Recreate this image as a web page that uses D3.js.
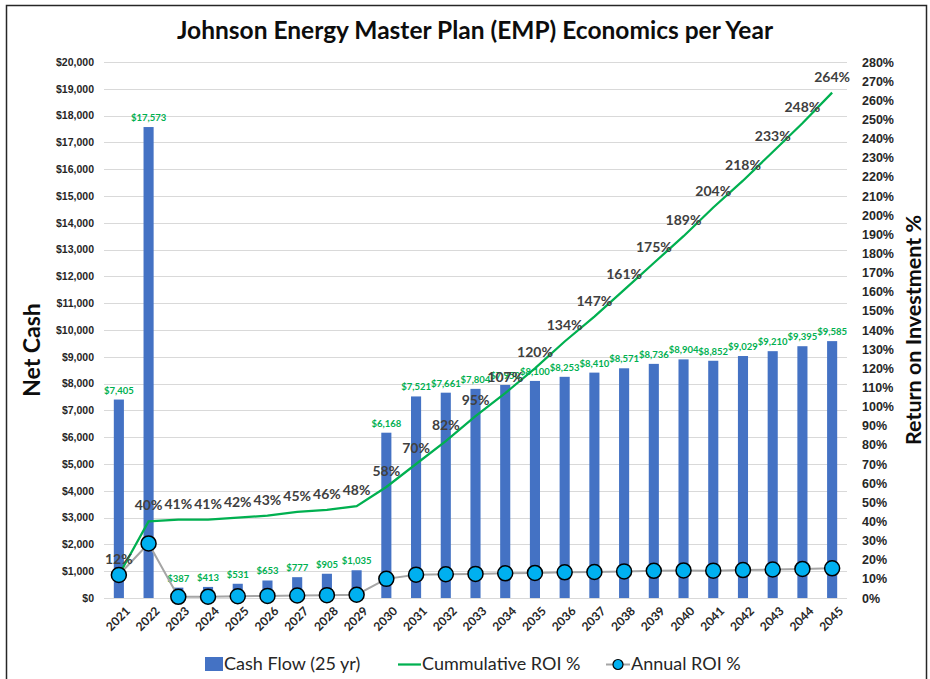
<html>
  <head>
    <script src="https://d3js.org/d3.v7.min.js"></script>
    <style>
      body { margin: 0; background: white; font-family: Lato, "Open Sans", sans-serif; }
      .grid line { stroke: #d9d9d9; stroke-width: 1; }
      .ylab text { font-size: 10.5px; font-weight: bold; fill: #262626; }
      .rlab text { font-size: 12.5px; font-weight: bold; fill: #262626; }
      .xlab text { font-size: 12px; font-weight: bold; fill: #262626; }
      .cash-label { font-size: 9.5px; font-weight: bold; fill: #00B050; }
      .cum-label { font-size: 14px; font-weight: bold; fill: #404040; }
      .legend text { font-size: 18px; fill: #262626; }
    </style>
  </head>
  <body>
    <svg id="chart" width="930" height="679"></svg>
    <script>
      var years = ['2021','2022','2023','2024','2025','2026','2027','2028','2029','2030','2031','2032','2033',
                   '2034','2035','2036','2037','2038','2039','2040','2041','2042','2043','2044','2045'];
      var cashFlow = [7405, 17573, 387, 413, 531, 653, 777, 905, 1035, 6168, 7521, 7661, 7804,
                      7950, 8100, 8253, 8410, 8571, 8736, 8904, 8852, 9029, 9210, 9395, 9585];
      var cumulativeRoi = [12, 40, 41, 41, 42, 43, 45, 46, 48, 58, 70, 82, 95,
                           107, 120, 134, 147, 161, 175, 189, 204, 218, 233, 248, 264];
      var annualRoi = [12, 28.5, 0.6, 0.7, 0.9, 1.1, 1.3, 1.5, 1.7, 10, 12.2, 12.4, 12.6,
                       12.9, 13.1, 13.4, 13.6, 13.9, 14.2, 14.4, 14.3, 14.6, 14.9, 15.2, 15.5];
      var cashTicks = d3.range(0, 20001, 1000);
      var roiTicks = d3.range(0, 281, 10);

      var svg = d3.select('#chart');

      // frame
      svg.append('rect').attr('x', 6.5).attr('y', 5.5).attr('width', 920).attr('height', 700)
        .attr('fill', 'white').attr('stroke', '#262626').attr('stroke-width', 1.5);

      svg.append('text').attr('x', 475).attr('y', 39).attr('text-anchor', 'middle')
        .style('font-size', '24.5px').style('font-weight', 'bold').style('fill', '#0d0d0d')
        .text('Johnson Energy Master Plan (EMP) Economics per Year');

      var x = d3.scaleBand().domain(years).range([104, 847]);
      var yCash = d3.scaleLinear().domain([0, 20000]).range([598, 62]);
      var yRoi = d3.scaleLinear().domain([0, 280]).range([598, 62]);
      var cx = function(d, i) { return x(years[i]) + x.bandwidth() / 2; };

      // gridlines
      svg.append('g').attr('class', 'grid')
        .selectAll('line').data(cashTicks).enter().append('line')
        .attr('x1', 104).attr('x2', 847)
        .attr('y1', function(d) { return Math.round(yCash(d)) + 0.5; })
        .attr('y2', function(d) { return Math.round(yCash(d)) + 0.5; });

      // left axis
      var left = svg.append('g').attr('class', 'ylab').attr('transform', 'translate(100,0)')
        .call(d3.axisLeft(yCash).tickValues(cashTicks).tickSize(0).tickPadding(6)
          .tickFormat(function(d) { return '$' + d3.format(',')(d); }));
      left.select('.domain').remove();

      // right axis
      var right = svg.append('g').attr('class', 'rlab').attr('transform', 'translate(856,0)')
        .call(d3.axisRight(yRoi).tickValues(roiTicks).tickSize(0).tickPadding(6)
          .tickFormat(function(d) { return d + '%'; }));
      right.select('.domain').remove();

      // x labels
      svg.append('g').attr('class', 'xlab').selectAll('text').data(years).enter().append('text')
        .attr('text-anchor', 'end')
        .attr('transform', function(d) { return 'translate(' + (x(d) + x.bandwidth() / 2 + 6) + ',606) rotate(-45)'; })
        .attr('dy', '0.7em')
        .text(function(d) { return d; });

      // axis titles
      svg.append('text').attr('transform', 'translate(40,350) rotate(-90)').attr('text-anchor', 'middle')
        .style('font-size', '23px').style('font-weight', 'bold').style('fill', '#0d0d0d').text('Net Cash');
      svg.append('text').attr('transform', 'translate(921,330) rotate(-90)').attr('text-anchor', 'middle')
        .style('font-size', '21.5px').style('font-weight', 'bold').style('fill', '#0d0d0d').text('Return on Investment %');

      // bars
      var bw = x.bandwidth() * 0.34;
      svg.append('g').selectAll('rect').data(cashFlow).enter().append('rect')
        .attr('x', function(d, i) { return cx(d, i) - bw / 2; })
        .attr('y', function(d) { return yCash(d); })
        .attr('width', bw)
        .attr('height', function(d) { return yCash(0) - yCash(d); })
        .attr('fill', '#4472C4');

      svg.append('g').selectAll('text').data(cashFlow).enter().append('text')
        .attr('class', 'cash-label').attr('text-anchor', 'middle')
        .attr('x', cx).attr('y', function(d) { return yCash(d) - 6; })
        .text(function(d) { return '$' + d3.format(',')(d); });

      // annual ROI
      var line = d3.line().x(cx).y(function(d) { return yRoi(d); });
      svg.append('path').datum(annualRoi).attr('d', line)
        .attr('fill', 'none').attr('stroke', '#A5A5A5').attr('stroke-width', 2);

      // cumulative ROI
      svg.append('path').datum(cumulativeRoi).attr('d', line)
        .attr('fill', 'none').attr('stroke', '#00B050').attr('stroke-width', 2.25);

      svg.append('g').selectAll('circle').data(annualRoi).enter().append('circle')
        .attr('cx', cx).attr('cy', function(d) { return yRoi(d); }).attr('r', 7.5)
        .attr('fill', '#00B0F0').attr('stroke', '#000').attr('stroke-width', 1.5);

      svg.append('g').selectAll('text').data(cumulativeRoi).enter().append('text')
        .attr('class', 'cum-label').attr('text-anchor', 'middle')
        .attr('x', cx).attr('y', function(d) { return yRoi(d) - 11; })
        .text(function(d) { return d + '%'; });

      // legend
      var lg = svg.append('g').attr('class', 'legend');
      lg.append('rect').attr('x', 205).attr('y', 657).attr('width', 18).attr('height', 14).attr('fill', '#4472C4');
      lg.append('text').attr('x', 224).attr('y', 670).text('Cash Flow (25 yr)');
      lg.append('line').attr('x1', 398).attr('x2', 421).attr('y1', 664.5).attr('y2', 664.5)
        .attr('stroke', '#00B050').attr('stroke-width', 2.25);
      lg.append('text').attr('x', 422).attr('y', 670).text('Cummulative ROI %');
      lg.append('line').attr('x1', 606).attr('x2', 630).attr('y1', 664.5).attr('y2', 664.5)
        .attr('stroke', '#A5A5A5').attr('stroke-width', 2);
      lg.append('circle').attr('cx', 618).attr('cy', 664.5).attr('r', 5)
        .attr('fill', '#00B0F0').attr('stroke', '#000').attr('stroke-width', 1.2);
      lg.append('text').attr('x', 631).attr('y', 670).text('Annual ROI %');
    </script>
  </body>
</html>
